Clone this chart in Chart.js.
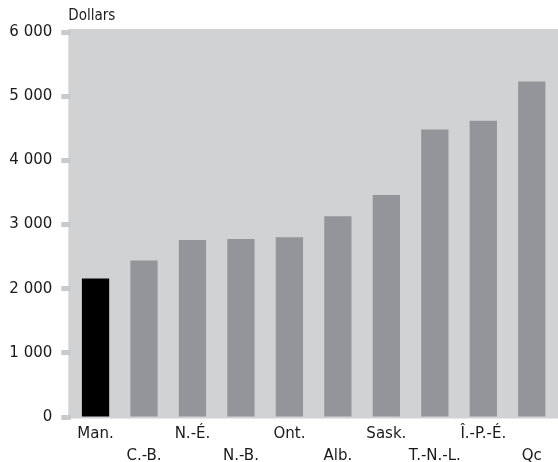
<!DOCTYPE html>
<html>
<head>
<meta charset="utf-8">
<script src="https://cdn.jsdelivr.net/npm/chart.js@4"></script>
<style>
  html, body { margin: 0; padding: 0; background: #fff; }
  #wrap { width: 558px; height: 462px; position: relative; }
</style>
</head>
<body>
<div id="wrap"><canvas id="chart"></canvas></div>
<script>
(function () {
    'use strict';

    /* ── Data ─────────────────────────────────────────────── */
    const provinces = ['Man.', 'C.-B.', 'N.-É.', 'N.-B.', 'Ont.', 'Alb.', 'Sask.', 'T.-N.-L.', 'Î.-P.-É.', 'Qc'];
    const dollars = [2160, 2440, 2760, 2775, 2800, 3130, 3460, 4480, 4615, 5230];
    const highlight = 'Man.';
    const yTicks = [0, 1000, 2000, 3000, 4000, 5000, 6000];

    /* ── Styles ───────────────────────────────────────────── */
    const BAR = '#939598';
    const BAR_HI = '#000000';
    const PLOT_BG = '#d1d2d4';
    const TEXT = '#1a1a1a';
    const FONT = "'DejaVu Sans', sans-serif";
    const STRETCH = 'condensed'; // goes in the style slot of the canvas font string

    const fmt = v => String(v).replace(/\B(?=(\d{3})+(?!\d))/g, ' ');

    // grey panel behind the bars, a bit wider than the chart area
    const plotBackground = {
        id: 'plotBackground',
        beforeDraw(chart) {
            const { ctx, chartArea: a } = chart;
            ctx.save();
            ctx.fillStyle = PLOT_BG;
            ctx.fillRect(a.left - 3, a.top - 3, chart.width - (a.left - 3), a.bottom - a.top + 4.5);
            ctx.restore();
        }
    };

    // "Dollars" unit label above the y axis
    const unitLabel = {
        id: 'unitLabel',
        afterDraw(chart) {
            const { ctx, chartArea: a } = chart;
            ctx.save();
            ctx.font = STRETCH + ' 15px ' + FONT;
            ctx.fillStyle = TEXT;
            ctx.textAlign = 'left';
            ctx.textBaseline = 'middle';
            ctx.fillText('Dollars', a.left - 3, 16);
            ctx.restore();
        }
    };

    new Chart(document.getElementById('chart'), {
        type: 'bar',
        data: {
            labels: provinces,
            datasets: [{
                data: dollars,
                backgroundColor: provinces.map(p => p === highlight ? BAR_HI : BAR),
                borderWidth: 0,
                categoryPercentage: 1,
                barPercentage: 0.563,
            }]
        },
        options: {
            responsive: true,
            maintainAspectRatio: false,
            animation: false,
            layout: { padding: { top: 32, right: 2, left: 0, bottom: 0 } },
            plugins: {
                legend: { display: false },
                tooltip: { enabled: false },
            },
            scales: {
                x: {
                    border: { display: false },
                    grid: { display: false, drawTicks: false },
                    ticks: {
                        color: TEXT,
                        font: { family: FONT, style: STRETCH, size: 15, lineHeight: 1.45 },
                        padding: 6,
                        maxRotation: 0,
                        autoSkip: false,
                        callback(v, i) {
                            const name = provinces[i];
                            return i % 2 ? ['', name] : name;
                        }
                    },
                    afterFit(scale) { scale.height = 45; }
                },
                y: {
                    min: 0,
                    max: 6000,
                    border: { display: false },
                    grid: {
                        drawOnChartArea: false,
                        tickLength: 10,
                        tickWidth: 5,
                        tickColor: '#c9cacc',
                    },
                    afterBuildTicks(scale) {
                        scale.ticks = yTicks.map(v => ({ value: v }));
                    },
                    ticks: {
                        color: TEXT,
                        font: { family: FONT, style: STRETCH, size: 15 },
                        padding: 9,
                        callback: v => fmt(v),
                    },
                    afterFit(scale) { scale.width = 71.3; }
                }
            }
        },
        plugins: [plotBackground, unitLabel]
    });
})();
</script>
</body>
</html>
